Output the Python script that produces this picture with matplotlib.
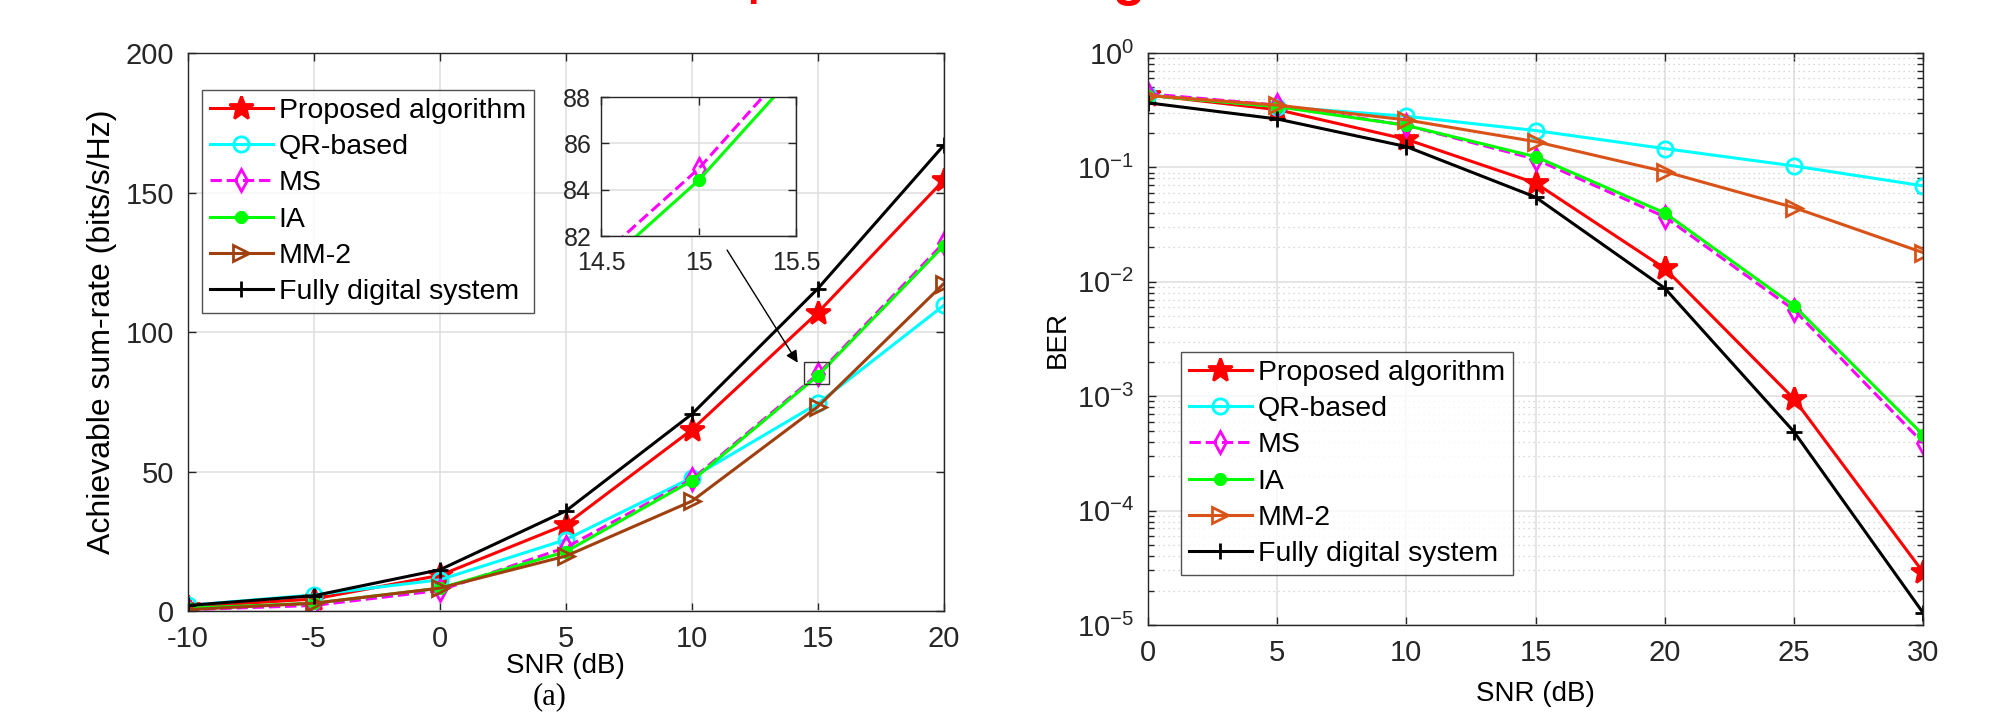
import matplotlib
matplotlib.use("Agg")
import matplotlib.pyplot as plt
from matplotlib.patches import Rectangle
import numpy as np

plt.rcParams['font.family'] = ['Liberation Sans', 'DejaVu Sans']
plt.rcParams['axes.unicode_minus'] = False

### data
snr_a = [-10, -5, 0, 5, 10, 15, 20]
rate_proposed = [1.5, 4.3, 12.8, 31.0, 65.0, 107.0, 154.5]
rate_qr = [2.0, 5.8, 11.2, 25.6, 47.8, 74.4, 109.6]
rate_ms = [0.5, 2.0, 7.4, 22.8, 47.2, 84.9, 132.0]
rate_ia = [1.0, 2.8, 8.2, 21.3, 46.7, 84.4, 131.0]
rate_mm2 = [0.5, 2.8, 8.2, 19.7, 39.4, 73.3, 117.4]
rate_fd = [2.0, 5.5, 14.8, 35.9, 70.6, 115.6, 167.0]

snr_b = [0, 5, 10, 15, 20, 25, 30]
ber_proposed = [0.43, 0.32, 0.176, 0.073, 0.0131, 9.5e-4, 2.9e-5]
ber_qr = [0.43, 0.34, 0.28, 0.21, 0.146, 0.103, 0.069]
ber_ms = [0.44, 0.35, 0.233, 0.118, 0.037, 0.0057, 3.9e-4]
ber_ia = [0.425, 0.34, 0.233, 0.124, 0.040, 0.0062, 4.6e-4]
ber_mm2 = [0.425, 0.35, 0.26, 0.168, 0.092, 0.0446, 0.018]
ber_fd = [0.367, 0.265, 0.152, 0.055, 0.0088, 4.9e-4, 1.28e-5]

labels = ["Proposed algorithm", "QR-based", "MS", "IA", "MM-2",
          "Fully digital system"]

# (color, marker, linestyle, markerfacecolor, markersize)
styles = [
    ("#ff0000", "*", "-", "#ff0000", 18),
    ("#00ffff", "o", "-", "none", 11),
    ("#ff00ff", "d", "--", "none", 11),
    ("#00ff00", (8, 2, 0), "-", "#00ff00", 9),
    ("#a0400f", ">", "-", "none", 12),
    ("#000000", "+", "-", "#000000", 12),
]


def draw_lines(ax, x, series, mm2_color=None):
    for i, (y, lab) in enumerate(zip(series, labels)):
        c, m, ls, mfc, ms = styles[i]
        if i == 4 and mm2_color is not None:
            c = mm2_color
        ew = 3.0 if i == 3 else 2.0
        ax.plot(x, y, color=c, marker=m, linestyle=ls, markerfacecolor=mfc,
                markeredgecolor=c, markersize=ms, linewidth=2.2,
                markeredgewidth=ew, label=lab)


def style_axes(ax, size=21):
    ax.tick_params(direction="in", which="both", top=True, right=True,
                   labelsize=size, length=6, width=1.0, pad=10,
                   colors="#262626")
    for s in ax.spines.values():
        s.set_color("#262626")
        s.set_linewidth(1.0)


def add_legend(ax, **kw):
    leg = ax.legend(fontsize=20.5, frameon=True, fancybox=False,
                    edgecolor="#262626", handlelength=2.2, borderpad=0.28,
                    labelspacing=0.36, handletextpad=0.22,
                    borderaxespad=0, **kw)
    leg.get_frame().set_linewidth(1.0)
    return leg


fig = plt.figure(figsize=(19.93, 7.18), dpi=100)

### (a) sum-rate
ax1 = fig.add_axes([0.0943, 0.149, 0.3793, 0.777])
draw_lines(ax1, snr_a, [rate_proposed, rate_qr, rate_ms, rate_ia,
                        rate_mm2, rate_fd])
ax1.set_xlim(-10, 20)
ax1.set_ylim(0, 200)
ax1.set_xticks(np.arange(-10, 21, 5))
ax1.set_yticks(np.arange(0, 201, 50))
ax1.grid(True, color="#e0e0e0", linewidth=1.2)
ax1.set_axisbelow(True)
style_axes(ax1)
ax1.set_xlabel("SNR (dB)", fontsize=20, labelpad=0)
ax1.set_ylabel("Achievable sum-rate (bits/s/Hz)", fontsize=23, labelpad=6)
add_legend(ax1, loc="upper left", bbox_to_anchor=(0.0185, 0.934))
ax1.text(0.479, -0.128, "(a)", transform=ax1.transAxes, ha="center",
         va="top", fontsize=22, family="Liberation Serif")

# zoom box + arrow
ax1.add_patch(Rectangle((14.45, 81.4), 1.0, 7.7, fill=False,
                        edgecolor="#333333", linewidth=1.0, zorder=5))
ax1.annotate("", xy=(14.2, 89), xytext=(0.3648, 0.6518),
             textcoords="figure fraction",
             arrowprops=dict(arrowstyle="-|>", color="k", lw=1.0,
                             mutation_scale=18, shrinkA=0, shrinkB=0))

axin = fig.add_axes([0.3016, 0.6713, 0.0978, 0.1936])
draw_lines(axin, snr_a, [rate_proposed, rate_qr, rate_ms, rate_ia,
                         rate_mm2, rate_fd])
axin.set_xlim(14.5, 15.5)
axin.set_ylim(82, 88)
axin.set_xticks([14.5, 15, 15.5])
axin.set_xticklabels(["14.5", "15", "15.5"])
axin.set_yticks([82, 84, 86, 88])
axin.grid(True, color="#e0e0e0", linewidth=1.2)
style_axes(axin, size=18)
axin.tick_params(axis="x", pad=11)
axin.tick_params(axis="y", pad=7)

### (b) BER
ax2 = fig.add_axes([0.576, 0.1295, 0.3889, 0.7967])
draw_lines(ax2, snr_b, [ber_proposed, ber_qr, ber_ms, ber_ia,
                        ber_mm2, ber_fd], mm2_color="#d95319")
ax2.set_yscale("log")
ax2.set_xlim(0, 30)
ax2.set_ylim(1e-5, 1)
ax2.set_xticks(np.arange(0, 31, 5))
ax2.grid(True, which="major", color="#e0e0e0", linewidth=1.2)
ax2.grid(True, which="minor", color="#cccccc", linestyle=(0, (1, 3)),
         linewidth=0.9)
ax2.set_axisbelow(True)
style_axes(ax2)
ax2.tick_params(which="minor", length=4)
ax2.set_xlabel("SNR (dB)", fontsize=20, labelpad=10)
ax2.set_ylabel("BER", fontsize=20, labelpad=4)
add_legend(ax2, loc="lower left", bbox_to_anchor=(0.0426, 0.0874))
ax2.text(0.465, -0.185, "(b)", transform=ax2.transAxes, ha="center",
         va="top", fontsize=22, family="Liberation Serif")

# cut-off red heading above the panels
fig.text(0.3815, 1.0075, "p", color="red", fontsize=30, fontweight="bold",
         ha="center", va="baseline")
fig.text(0.5665, 1.007, "g", color="red", fontsize=38, fontweight="bold",
         ha="center", va="baseline")

fig.savefig("out.png", dpi=100, facecolor="white")
